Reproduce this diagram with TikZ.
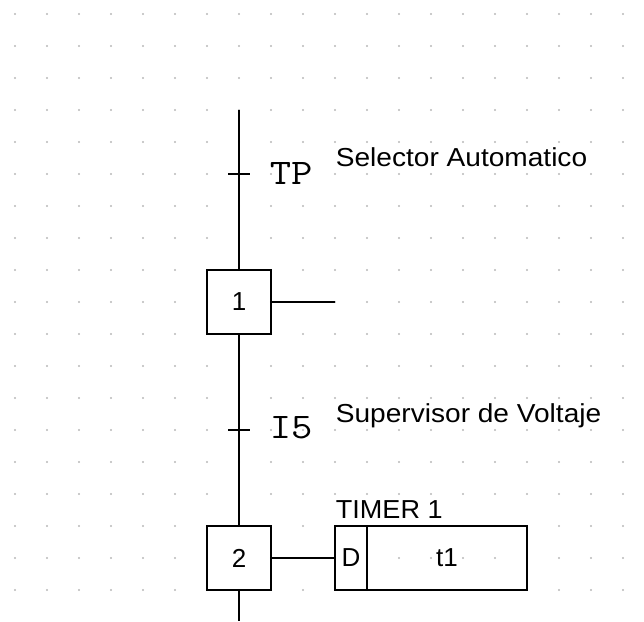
\documentclass[tikz,border=0pt]{standalone}
\usepackage{fontspec}
\setmainfont{Liberation Sans}
\begin{document}
\begin{tikzpicture}[x=1pt,y=-1pt,
  line width=1.8pt,
  stepbox/.style={draw,rectangle,minimum width=64pt,minimum height=64pt,inner sep=0pt,font=\fontsize{26}{26}\selectfont},
  cellbox/.style={draw,rectangle,minimum height=64pt,inner sep=0pt,font=\fontsize{26}{26}\selectfont},
  cond/.style={anchor=base west,inner sep=0pt,font=\ttfamily\fontsize{36}{36}\selectfont},
  comment/.style={anchor=base west,inner sep=0pt,font=\fontsize{26}{26}\selectfont},
  griddot/.style={fill=black!28}
]
\useasboundingbox (0,0) rectangle (644,621);
\foreach \i in {0,...,19}{
  \foreach \j in {0,...,18}{
    \fill[griddot] (15+32*\i,14+32*\j) circle (1.1pt);
  }
}
\coordinate (top) at (239,110);
\coordinate (bot) at (239,621);
\coordinate (tA) at (239,174);
\coordinate (tB) at (239,430);
\coordinate (act1) at (335,302);
\node[stepbox] (s1) at (239,302) {1};
\node[stepbox] (s2) at (239,558) {2};
\node[cellbox,minimum width=32pt] (d) at (351,558) {D};
\node[cellbox,minimum width=160pt] (t1) at (447,558) {t1};
\draw (top) -- (s1.north);
\draw (s1.south) -- (s2.north);
\draw (s2.south) -- (bot);
\draw ([xshift=-11pt]tA) -- ([xshift=11pt]tA);
\draw ([xshift=-11pt]tB) -- ([xshift=11pt]tB);
\draw (s1.east) -- (act1);
\draw (s2.east) -- (d.west);
\node[cond] (cTP) at (269,184) {\scalebox{1.15}[1]{TP}};
\node[cond] (cI5) at (269,438) {\scalebox{1.15}[1]{I5}};
\node[comment] (nSel) at (335,166) {\scalebox{1.08}[1]{Selector Automatico}};
\node[comment] (nSup) at (335,422) {\scalebox{1.08}[1]{Supervisor de Voltaje}};
\node[comment] (nTim) at (335,518) {\scalebox{1.04}[1]{TIMER 1}};
\end{tikzpicture}
\end{document}
